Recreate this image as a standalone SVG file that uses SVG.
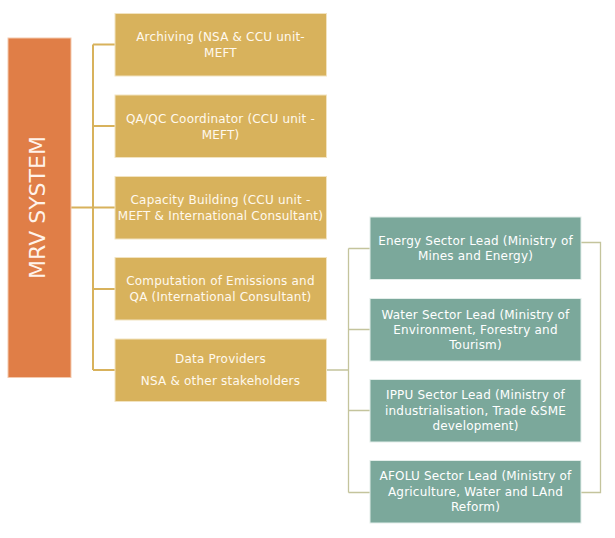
<svg xmlns="http://www.w3.org/2000/svg" width="615" height="538" viewBox="0 0 615 538">
<style>
.gold{fill:#D8B25C;stroke:#F2E3C0;stroke-width:1}
.teal{fill:#7BA89B;stroke:#E3EEEA;stroke-width:1}
.mrv{fill:#E07E47;stroke:#F4C9AE;stroke-width:1}
.t{font-family:"DejaVu Sans",sans-serif;font-size:12px;letter-spacing:0.2px;text-anchor:middle;fill:#FFF9EE}
.tt{font-family:"DejaVu Sans",sans-serif;font-size:12px;letter-spacing:0.2px;text-anchor:middle;fill:#FFFFFF}
.big{font-family:"DejaVu Sans",sans-serif;font-size:22px;text-anchor:middle;fill:#FFF3EA}
.cg{fill:none;stroke:#D8B25C;stroke-width:2}
.ct{fill:none;stroke:#C4C49C;stroke-width:1.3}
</style>
<rect width="615" height="538" fill="#FFFFFF"/>
<g id="connectors">
<path class="cg" d="M71 207.5H93M93 44.5V370M93 44.5H115M93 126H115M93 207.5H115M93 289H115M93 370H115"/>
<path class="ct" d="M326 370H348.5M348.5 248.5V492.5M348.5 248.5H370M348.5 329.5H370M348.5 410.5H370M348.5 492.5H370"/>
<path class="ct" d="M581 242.5H600.5V492.5H581"/>
</g>
<g id="mrv">
<rect class="mrv" x="8" y="38" width="63" height="339.5"/>
<text class="big" transform="translate(45,207.5) rotate(-90)">MRV SYSTEM</text>
</g>
<g id="archiving">
<rect class="gold" x="115" y="13.5" width="211.5" height="62.5"/>
<text class="t" x="220.5" y="41">Archiving (NSA &amp; CCU unit-</text>
<text class="t" x="220.5" y="56.5">MEFT</text>
</g>
<g id="qaqc">
<rect class="gold" x="115" y="95" width="211.5" height="62.5"/>
<text class="t" x="220.5" y="123">QA/QC Coordinator (CCU unit -</text>
<text class="t" x="220.5" y="138.5">MEFT)</text>
</g>
<g id="capacity">
<rect class="gold" x="115" y="176.5" width="211.5" height="62.5"/>
<text class="t" x="220.5" y="204">Capacity Building (CCU unit -</text>
<text class="t" x="220.5" y="219.5">MEFT &amp; International Consultant)</text>
</g>
<g id="computation">
<rect class="gold" x="115" y="257.5" width="211.5" height="62.5"/>
<text class="t" x="220.5" y="285">Computation of Emissions and</text>
<text class="t" x="220.5" y="301">QA (International Consultant)</text>
</g>
<g id="dataproviders">
<rect class="gold" x="115" y="339" width="211.5" height="62.5"/>
<text class="t" x="220.5" y="362.5">Data Providers</text>
<text class="t" x="220.5" y="384.5">NSA &amp; other stakeholders</text>
</g>
<g id="energy">
<rect class="teal" x="370" y="217" width="211" height="62.5"/>
<text class="tt" x="475.5" y="245">Energy Sector Lead (Ministry of</text>
<text class="tt" x="475.5" y="260">Mines and Energy)</text>
</g>
<g id="water">
<rect class="teal" x="370" y="298.5" width="211" height="62.5"/>
<text class="tt" x="475.5" y="318.5">Water Sector Lead (Ministry of</text>
<text class="tt" x="475.5" y="333.5">Environment, Forestry and</text>
<text class="tt" x="475.5" y="349">Tourism)</text>
</g>
<g id="ippu">
<rect class="teal" x="370" y="379.5" width="211" height="62.5"/>
<text class="tt" x="475.5" y="399">IPPU Sector Lead (Ministry of</text>
<text class="tt" x="475.5" y="414.5">industrialisation, Trade &amp;SME</text>
<text class="tt" x="475.5" y="430">development)</text>
</g>
<g id="afolu">
<rect class="teal" x="370" y="460.5" width="211" height="62.5"/>
<text class="tt" x="475.5" y="480">AFOLU Sector Lead (Ministry of</text>
<text class="tt" x="475.5" y="495.5">Agriculture, Water and LAnd</text>
<text class="tt" x="475.5" y="511">Reform)</text>
</g>
</svg>
